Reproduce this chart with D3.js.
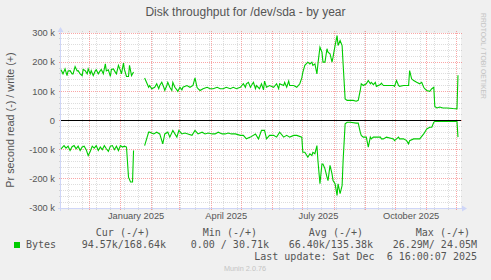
<!DOCTYPE html>
<html>
<head>
<meta charset="utf-8">
<script src="https://cdn.jsdelivr.net/npm/d3@7"></script>
<style>
body { margin: 0; background: #f0f0f0; }
svg { display: block; font-family: "Liberation Sans", Arial, sans-serif; }
.mono { font-family: "DejaVu Sans Mono", monospace; font-size: 10px; fill: #555; }
</style>
</head>
<body>
<svg id="chart" width="491" height="280"></svg>
<script>
// daily averages in k bytes/s, [day offset from start, value]; null = no data
const startDate = new Date(2024, 10, 3);
const endDate = new Date(2025, 11, 5);
const yTicks = [-300, -200, -100, 0, 100, 200, 300];
const xLabels = ["January 2025", "April 2025", "July 2025", "October 2025"];

const writeData = [
    [0,174],[2,160],[4,177],[6,154],[7,170],[9,171],[11,160],[12,160],[14,185],[16,170],
    [17,171],[19,160],[21,154],[22,175],[24,171],[26,160],[27,177],[29,160],[30,171],[32,154],
    [34,170],[35,174],[37,160],[39,171],[40,175],[42,160],[44,194],[45,170],[47,174],[49,151],
    [50,175],[52,177],[54,165],[55,160],[57,189],[59,171],[60,160],[62,197],[63,174],[65,151],
    [67,151],[68,189],[70,154],[72,166],[77,null],
    [83,146],[87,114],[88,120],[90,109],[93,114],[95,126],[97,109],[98,120],[100,131],[102,114],
    [103,103],[105,120],[106,131],[108,114],[110,103],[111,131],[113,114],[115,105],[116,100],[118,114],
    [120,105],[121,114],[125,120],[128,114],[131,120],[133,146],[135,114],[136,109],[138,103],[141,109],
    [145,114],[148,109],[151,109],[155,114],[158,109],[161,109],[164,114],[168,109],[171,114],[174,109],
    [178,114],[181,126],[183,114],[184,126],[186,131],[188,114],[189,120],[191,131],[193,109],[194,120],
    [197,109],[199,126],[201,105],[202,135],[204,114],[207,120],[211,114],[214,126],[216,109],[217,126],
    [221,120],[222,131],[224,114],[226,135],[227,120],[231,120],[234,114],[237,126],[239,146],[240,165],
    [242,189],[245,200],[247,194],[249,200],[250,189],[252,194],[254,160],[255,194],[257,251],[259,234],
    [260,200],[262,200],[264,246],[265,234],[267,229],[269,200],[270,217],[272,257],[274,291],[275,257],
    [277,274],[279,257],[280,194],[282,74],[284,69],[287,69],[290,69],[293,66],[295,69],[297,103],
    [298,126],[300,120],[303,126],[305,137],[307,126],[308,131],[310,123],[312,131],[313,117],[317,123],
    [318,128],[320,120],[323,120],[327,120],[330,120],[331,117],[333,137],[335,120],[336,117],[340,120],
    [343,120],[345,120],[346,171],[348,143],[350,137],[353,131],[356,126],[358,131],[360,114],[361,109],
    [363,103],[366,100],[368,109],[370,114],[371,48],[373,43],[376,46],[379,43],[383,43],[389,41],
    [393,40],[394,155]
];

const readData = [
    [0,97],[3,86],[5,95],[7,88],[9,103],[11,90],[13,86],[15,97],[17,88],[19,103],
    [21,91],[23,88],[25,100],[27,120],[29,106],[31,88],[33,95],[35,86],[37,103],[39,91],
    [41,100],[43,86],[45,97],[47,106],[49,88],[51,86],[53,100],[55,88],[57,103],[59,86],
    [61,91],[63,88],[65,91],[67,194],[69,211],[71,211],[72,103],[77,null],
    [83,86],[87,40],[88,40],[92,46],[95,40],[98,46],[101,80],[103,46],[106,40],[108,57],
    [111,34],[115,57],[117,34],[120,46],[123,43],[126,46],[130,51],[133,34],[136,46],[140,40],
    [143,46],[146,43],[150,46],[153,46],[156,40],[160,46],[163,46],[166,43],[169,46],[173,46],
    [178,51],[181,51],[184,63],[188,57],[193,46],[196,63],[199,34],[202,34],[204,63],[207,51],
    [211,51],[214,57],[217,40],[221,57],[224,51],[227,57],[231,51],[234,51],[239,57],[240,109],
    [242,109],[244,120],[245,126],[247,114],[249,120],[250,109],[252,114],[254,86],[255,137],[257,217],
    [259,149],[260,149],[262,166],[264,194],[265,206],[267,154],[269,183],[270,206],[272,217],[274,257],
    [275,217],[277,251],[279,223],[280,137],[282,11],[284,6],[287,6],[293,9],[295,9],[297,40],
    [298,51],[300,57],[303,57],[305,91],[307,57],[308,63],[310,57],[313,57],[317,57],[318,63],
    [320,63],[323,57],[330,63],[331,69],[333,63],[335,57],[336,63],[340,63],[343,69],[345,80],
    [346,69],[350,63],[353,63],[356,63],[360,46],[361,40],[363,29],[366,23],[368,23],[370,6],
    [371,3],[389,3],[393,3],[394,57]
];

const legendHeads = ["Cur (-/+)", "Min (-/+)", "Avg (-/+)", "Max (-/+)"];
const legendValues = ["94.57k/168.64k", "0.00 / 30.71k", "66.40k/135.38k", "26.29M/ 24.05M"];

const svg = d3.select("#chart");
const plotLeft = 61, plotRight = 461, plotTop = 33, plotBottom = 208;
const crisp = v => Math.floor(v) + 0.5;

const x = d3.scaleTime().domain([startDate, endDate]).range([plotLeft, plotRight]);
const y = d3.scaleLinear().domain([-300, 300]).range([plotBottom, plotTop]);

svg.append("rect").attr("width", 491).attr("height", 280).attr("fill", "#f0f0f0");
svg.append("rect").attr("x", plotLeft).attr("y", plotTop)
    .attr("width", plotRight - plotLeft).attr("height", plotBottom - plotTop).attr("fill", "#fff");

// grid
let grid = svg.append("g").attr("stroke-dasharray", "1,1").attr("stroke-width", 1);
let minorY = d3.range(-300, 301, 20).filter(v => v % 100 !== 0);
grid.selectAll(".hmin").data(minorY).join("line")
    .attr("x1", plotLeft - 2).attr("x2", plotRight + 2)
    .attr("y1", d => crisp(y(d))).attr("y2", d => crisp(y(d)))
    .attr("stroke", "#8f8f8f").attr("stroke-opacity", 0.3);
let weeks = d3.timeWeek.range(startDate, endDate).filter(d => d3.timeWeek.count(startDate, d) % 2 === 1);
grid.selectAll(".vmin").data(weeks).join("line")
    .attr("x1", d => crisp(x(d))).attr("x2", d => crisp(x(d)))
    .attr("y1", plotTop - 2).attr("y2", plotBottom + 2)
    .attr("stroke", "#8f8f8f").attr("stroke-opacity", 0.3);
grid.selectAll(".hmaj").data(yTicks).join("line")
    .attr("x1", plotLeft - 2).attr("x2", plotRight + 2)
    .attr("y1", d => crisp(y(d))).attr("y2", d => crisp(y(d)))
    .attr("stroke", "#f00000").attr("stroke-opacity", 0.35);
let months = d3.timeMonth.range(startDate, endDate);
grid.selectAll(".vmaj").data(months).join("line")
    .attr("x1", d => crisp(x(d))).attr("x2", d => crisp(x(d)))
    .attr("y1", plotTop - 2).attr("y2", plotBottom + 3)
    .attr("stroke", "#f00000").attr("stroke-opacity", 0.35);

// axes
const axisColor = "#cfd6f8";
svg.append("line").attr("x1", plotLeft - 3).attr("x2", plotRight + 3)
    .attr("y1", crisp(plotBottom)).attr("y2", crisp(plotBottom)).attr("stroke", axisColor);
svg.append("line").attr("x1", plotLeft - 0.5).attr("x2", plotLeft - 0.5)
    .attr("y1", plotBottom + 3).attr("y2", plotTop - 4).attr("stroke", axisColor);
svg.append("path")
    .attr("d", `M${plotRight + 1},${plotBottom - 2.5}L${plotRight + 6},${plotBottom + 0.5}L${plotRight + 1},${plotBottom + 3.5}Z`)
    .attr("fill", axisColor);
svg.append("path")
    .attr("d", `M${plotLeft - 3.5},${plotTop - 1}L${plotLeft - 0.5},${plotTop - 6}L${plotLeft + 2.5},${plotTop - 1}Z`)
    .attr("fill", axisColor);

// labels
const textColor = "#555";
svg.append("g").selectAll("text").data(yTicks).join("text")
    .attr("x", 55).attr("y", d => y(d) + 3.3)
    .attr("text-anchor", "end").attr("font-size", 9.3).attr("fill", textColor)
    .text(d => d === 0 ? "0" : `${d} k`);

const parseMonth = d3.timeParse("%B %Y");
svg.append("g").selectAll("text").data(xLabels).join("text")
    .attr("x", d => { let m = parseMonth(d); return (x(m) + x(d3.timeMonth.offset(m, 1))) / 2; })
    .attr("y", 219).attr("text-anchor", "middle").attr("font-size", 9.3).attr("fill", textColor)
    .text(d => d);

svg.append("text").attr("x", 245.5).attr("y", 15.5).attr("text-anchor", "middle")
    .attr("font-size", 12).attr("fill", textColor).text("Disk throughput for /dev/sda - by year");

svg.append("text").attr("transform", "translate(14,120) rotate(-90)").attr("text-anchor", "middle")
    .attr("font-size", 10.8).attr("fill", textColor).text("Pr second read (-) / write (+)");

svg.append("text").attr("transform", "translate(480.5,13) rotate(90)")
    .attr("font-size", 6.8).attr("fill", "#c4c4c4").text("RRDTOOL / TOBI OETIKER");

// data
let line = d3.line().defined(d => d[1] != null)
    .x(d => x(d3.timeDay.offset(startDate, d[0])));
svg.append("path").datum(writeData)
    .attr("d", line.y(d => y(d[1])))
    .attr("fill", "none").attr("stroke", "#00cc00").attr("stroke-width", 1.1);
svg.append("path").datum(readData)
    .attr("d", line.y(d => y(-d[1])))
    .attr("fill", "none").attr("stroke", "#00cc00").attr("stroke-width", 1.1);

svg.append("line").attr("x1", plotLeft).attr("x2", plotRight)
    .attr("y1", crisp(y(0))).attr("y2", crisp(y(0))).attr("stroke", "#000");

// legend
let headRight = [150, 257, 363, 470], valRight = [166, 269, 373, 477];
svg.append("g").selectAll("text").data(legendHeads).join("text")
    .attr("class", "mono").attr("x", (d, i) => headRight[i]).attr("y", 236)
    .attr("text-anchor", "end").text(d => d);
svg.append("rect").attr("x", 14).attr("y", 242).attr("width", 6).attr("height", 6).attr("fill", "#00cc00");
svg.append("text").attr("class", "mono").attr("x", 26).attr("y", 247.5).text("Bytes");
svg.append("g").selectAll("text").data(legendValues).join("text")
    .attr("class", "mono").attr("x", (d, i) => valRight[i]).attr("y", 247.5)
    .attr("text-anchor", "end").attr("xml:space", "preserve").text(d => d);
svg.append("text").attr("class", "mono").attr("x", 477).attr("y", 259.5)
    .attr("text-anchor", "end").attr("xml:space", "preserve")
    .text("Last update: Sat Dec  6 16:00:07 2025");

svg.append("text").attr("x", 245).attr("y", 271).attr("text-anchor", "middle")
    .attr("font-size", 7.3).attr("fill", "#c4c4c4").text("Munin 2.0.76");
</script>
</body>
</html>
